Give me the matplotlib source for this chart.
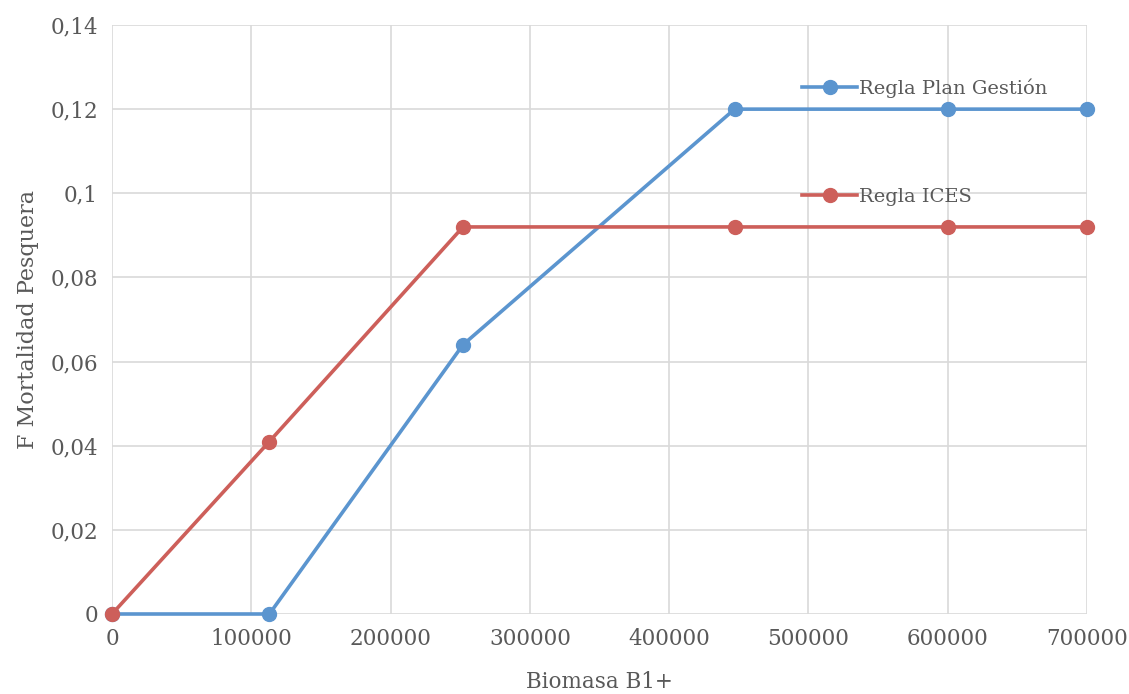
import matplotlib.pyplot as plt

# datos
biomasa = [0, 113000, 252000, 447000, 600000, 700000]
f_plan = [0, 0, 0.064, 0.12, 0.12, 0.12]
f_ices = [0, 0.041, 0.092, 0.092, 0.092, 0.092]

plt.rcParams['font.family'] = ['DejaVu Serif']
plt.rcParams['font.size'] = 14.5
texto = '#595959'

fig = plt.figure(figsize=(11.29, 6.94), dpi=100)
ax = fig.add_axes([112 / 1129, 1 - 614 / 694, 975 / 1129, 589 / 694])

l1, = ax.plot(biomasa, f_plan, color='#5B95CF', lw=2.6, marker='o', ms=10,
              label='Regla Plan Gestión', zorder=3, clip_on=False)
l2, = ax.plot(biomasa, f_ices, color='#CD5F5A', lw=2.6, marker='o', ms=10,
              label='Regla ICES', zorder=4, clip_on=False)

ax.set_xlim(0, 700000)
ax.set_ylim(0, 0.14)
ax.set_xticks(range(0, 700001, 100000))
ax.set_yticks([0, 0.02, 0.04, 0.06, 0.08, 0.1, 0.12, 0.14])
ax.set_yticklabels(['0', '0,02', '0,04', '0,06', '0,08', '0,1', '0,12', '0,14'])
ax.grid(True, color='#D9D9D9', lw=1.2)
ax.set_axisbelow(True)
for s in ax.spines.values():
    s.set_visible(False)
ax.tick_params(length=0, colors=texto, pad=10, labelsize=15.5)

ax.set_xlabel('Biomasa B1+', color=texto, labelpad=15, fontsize=15.5)
ax.set_ylabel('F Mortalidad Pesquera', color=texto, labelpad=8, fontsize=16)

leg = ax.legend(handles=[l1, l2], loc='upper left', bbox_to_anchor=(0.7, 0.922),
                frameon=False, handlelength=2.8, handletextpad=0.1,
                labelspacing=4.6, labelcolor=texto, borderaxespad=0,
                fontsize=14)

fig.savefig('out.png', dpi=100)
